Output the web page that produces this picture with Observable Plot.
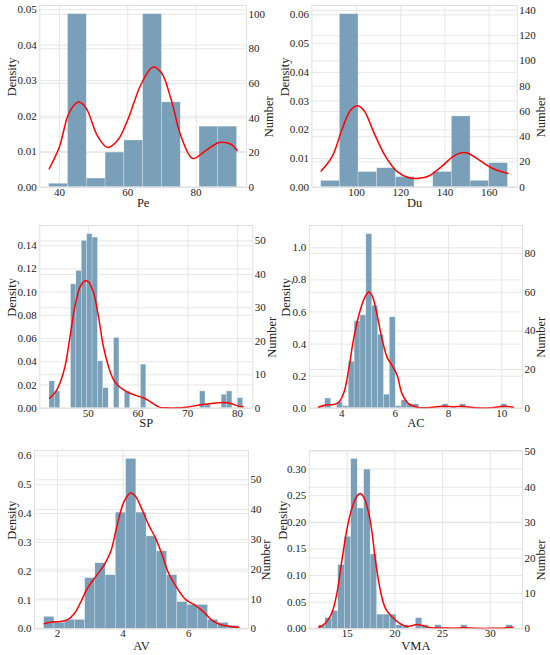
<!DOCTYPE html>
<html><head><meta charset="utf-8">
<script src="https://cdn.jsdelivr.net/npm/d3@7"></script>
<script src="https://cdn.jsdelivr.net/npm/@observablehq/plot@0.6"></script>
<style>
body{margin:0;background:#fff;}
#root{position:relative;width:550px;height:655px;overflow:hidden;background:#fff;}
#root svg{position:absolute;}
#root svg, #root svg text{font-family:"Liberation Serif","Times New Roman",serif !important;}
</style></head><body><div id="root"></div>
<script>
// ---------- Pe ----------
const peStart = 37, peWidth = 5.5;
const peCounts = [2, 100, 5, 20, 27, 100, 49, 0, 35, 35];
const peKdeX = [37, 40, 42.4, 44.0, 45.6, 47.0, 48.3, 51.2, 54.1, 57.1, 60, 63.9, 67.3, 69.8, 72.7, 75.6, 79, 82.4, 86.8, 90.2, 92];
const peKdeY = [0.0052, 0.0114, 0.0200, 0.0228, 0.0240, 0.0233, 0.0214, 0.0143, 0.0112, 0.0133, 0.0190, 0.0290, 0.0338, 0.0323, 0.0247, 0.0143, 0.0081, 0.0100, 0.0126, 0.0121, 0.0103];
const peXTicks = [40, 60, 80];
const peDTicks = [0, 0.01, 0.02, 0.03, 0.04, 0.05];
const peNTicks = [0, 20, 40, 60, 80, 100];

// ---------- Du ----------
const duStart = 84, duWidth = 8.45;
const duCounts = [5, 137, 12, 15, 8, 0, 12, 56, 5, 19];
const duKdeX = [84, 89, 93.5, 97.3, 100.3, 103.3, 107.8, 113.1, 118.4, 123.7, 128.2, 132.7, 138.8, 143.3, 147.1, 150.1, 155.4, 161.4, 168.5];
const duKdeY = [0.0056, 0.0107, 0.0203, 0.0268, 0.0284, 0.0268, 0.0191, 0.0107, 0.0054, 0.0033, 0.0031, 0.0039, 0.0074, 0.0105, 0.0119, 0.0119, 0.0095, 0.0066, 0.0048];
const duXTicks = [100, 120, 140, 160];
const duDTicks = [0, 0.01, 0.02, 0.03, 0.04, 0.05, 0.06];
const duNTicks = [0, 20, 40, 60, 80, 100, 120, 140];

// ---------- SP ----------
const spStart = 42.19, spWidth = 1.081;
const spCounts = [8, 5, 0, 0, 37, 41, 50, 52, 51, 14, 6, 0, 21, 0, 5, 0, 0, 13, 0, 0, 0, 0, 0, 0, 0, 0, 0, 0, 5, 1, 0, 0, 4, 5, 0, 3];
const spKdeX = [42.19, 43.38, 44.37, 45.36, 46.36, 47.35, 48.34, 49.34, 50.0, 50.99, 51.99, 52.98, 53.97, 54.97, 55.96, 57.28, 58.61, 59.93, 61.26, 62.58, 64.24, 65.8, 67.1, 69.8, 72.5, 75.2, 77.2, 78.5, 80.0, 81.1];
const spKdeY = [0.0086, 0.0138, 0.0225, 0.0369, 0.0628, 0.0887, 0.1045, 0.1097, 0.1089, 0.1002, 0.080, 0.054, 0.037, 0.0253, 0.0196, 0.0153, 0.0124, 0.0104, 0.0086, 0.0052, 0.0009, 0.0003, 0.0002, 0.0009, 0.0029, 0.0043, 0.0049, 0.0043, 0.0020, 0.0012];
const spXTicks = [50, 60, 70, 80];
const spDTicks = [0, 0.02, 0.04, 0.06, 0.08, 0.10, 0.12, 0.14];
const spNTicks = [0, 10, 20, 30, 40, 50];

// ---------- AC ----------
const acStart = 3.16, acWidth = 0.22;
const acCounts = [1, 5, 0, 3, 1, 24, 45, 48, 90, 53, 38, 7, 47, 1, 4, 2, 2, 0, 0, 0, 0, 2, 0, 0, 2, 0, 0, 0, 0, 0, 0, 2];
const acKdeX = [3.12, 3.45, 3.70, 3.89, 4.08, 4.26, 4.45, 4.70, 4.89, 5.01, 5.14, 5.33, 5.51, 5.70, 5.89, 6.08, 6.26, 6.51, 6.83, 7.2, 7.8, 8.2, 8.5, 9.0, 9.6, 10.1, 10.43];
const acKdeY = [0.006, 0.021, 0.023, 0.037, 0.099, 0.244, 0.44, 0.617, 0.70, 0.725, 0.70, 0.575, 0.43, 0.317, 0.265, 0.203, 0.089, 0.027, 0.006, 0.003, 0.012, 0.008, 0.012, 0.003, 0.003, 0.012, 0.006];
const acXTicks = [4, 6, 8, 10];
const acDTicks = [0, 0.2, 0.4, 0.6, 0.8, 1.0];
const acNTicks = [0, 20, 40, 60, 80];

// ---------- AV ----------
const avStart = 1.595, avWidth = 0.312;
const avCounts = [4, 2, 3, 3, 17, 22, 18, 39, 57, 39, 31, 26, 18, 9, 8, 8, 3, 2, 1];
const avKdeX = [1.595, 1.80, 2.10, 2.30, 2.51, 2.71, 2.91, 3.16, 3.42, 3.62, 3.82, 4.03, 4.23, 4.38, 4.58, 4.78, 4.99, 5.19, 5.39, 5.65, 5.90, 6.20, 6.46, 6.71, 6.96, 7.27, 7.52];
const avKdeY = [0.0174, 0.023, 0.0256, 0.031, 0.052, 0.093, 0.14, 0.18, 0.221, 0.267, 0.36, 0.442, 0.471, 0.459, 0.413, 0.36, 0.314, 0.256, 0.192, 0.14, 0.102, 0.081, 0.058, 0.029, 0.015, 0.008, 0.005];
const avXTicks = [2, 4, 6];
const avDTicks = [0, 0.1, 0.2, 0.3, 0.4, 0.5, 0.6];
const avNTicks = [0, 10, 20, 30, 40, 50];

// ---------- VMA ----------
const vmaStart = 12.03, vmaWidth = 0.678;
const vmaCounts = [1, 3, 5, 18, 26, 48, 34, 45, 21, 4, 4, 4, 1, 1, 0, 3, 1, 0, 1, 0, 0, 0, 1, 0, 0, 0, 0, 0, 0, 1];
const vmaKdeX = [12.03, 12.73, 13.43, 13.95, 14.48, 15.0, 15.52, 16.05, 16.40, 16.75, 17.27, 17.62, 17.97, 18.5, 19.02, 19.72, 20.42, 21.29, 22.34, 22.87, 23.8, 25.0, 26.2, 27.2, 28.5, 30.0, 31.5, 32.38];
const vmaKdeY = [0.003, 0.011, 0.032, 0.070, 0.133, 0.19, 0.228, 0.25, 0.254, 0.247, 0.216, 0.178, 0.127, 0.070, 0.038, 0.022, 0.011, 0.0044, 0.008, 0.006, 0.002, 0.0015, 0.001, 0.002, 0.001, 0.0008, 0.0015, 0.003];
const vmaXTicks = [15, 20, 25, 30];
const vmaDTicks = [0, 0.05, 0.10, 0.15, 0.20, 0.25, 0.30];
const vmaNTicks = [0, 10, 20, 30, 40, 50];

const FONT = '"Liberation Serif", "Times New Roman", serif';
const GRID = "#e4e4e4";
const BAR = "#7aa0b9";

function panel(o) {
  const N = d3.sum(o.counts);
  const k = 1 / (N * o.width);
  const bars = o.counts.map((c, i) => ({x1: o.start + i * o.width, x2: o.start + (i + 1) * o.width, y: c * k})).filter(b => b.y > 0);
  const kde = o.kdeX.map((x, i) => ({x, y: o.kdeY[i]}));
  const ymax = 1.05 * Math.max(d3.max(bars, b => b.y), d3.max(o.kdeY));
  const nPos = o.nTicks.map(n => n * k);
  const fmt = d3.format(o.dFmt);
  const svg = Plot.plot({
    width: o.w, height: o.h,
    marginLeft: o.mL, marginRight: o.mR, marginTop: o.mT, marginBottom: o.mB,
    style: {fontFamily: FONT, fontSize: "11px", color: "#222", background: "transparent", overflow: "visible"},
    x: {domain: o.xDomain},
    y: {domain: [0, ymax]},
    marks: [
      Plot.gridX({ticks: o.xTicks, stroke: GRID, strokeOpacity: 1, strokeWidth: 0.9}),
      Plot.gridY({ticks: o.dTicks, stroke: GRID, strokeOpacity: 1, strokeWidth: 0.9}),
      Plot.gridY({ticks: nPos, stroke: GRID, strokeOpacity: 1, strokeWidth: 0.9}),
      Plot.rectY(bars, {x1: "x1", x2: "x2", y: "y", fill: BAR, stroke: "#ffffff", strokeWidth: 0.4, strokeOpacity: 0.6, inset: 0}),
      Plot.line(kde, {x: "x", y: "y", stroke: "red", strokeWidth: 1.5, curve: "catmull-rom"}),
      Plot.frame({stroke: "#dddddd", strokeWidth: 0.9}),
      Plot.axisX({ticks: o.xTicks, tickSize: 0, tickPadding: 0.5, tickFormat: d => String(d), label: null, fontSize: 11, fill: "#222"}),
      Plot.axisY({ticks: o.dTicks, anchor: "left", tickSize: 0, tickPadding: 3, tickFormat: d => fmt(d), label: null, fontSize: 11, fill: "#222"}),
      Plot.axisY({ticks: nPos, anchor: "right", tickSize: 0, tickPadding: 2, tickFormat: d => String(Math.round(d / k)), label: null, fontSize: 11, fill: "#222"}),
      Plot.text([o.xLabel], {frameAnchor: "bottom", dy: o.xLabDy, text: d => d, fontSize: 12.5, fill: "#222", lineAnchor: "middle"}),
      Plot.text(["Density"], {frameAnchor: "left", dx: o.dLabDx, rotate: -90, text: d => d, fontSize: 12.5, fill: "#222", lineAnchor: "middle"}),
      Plot.text(["Number"], {frameAnchor: "right", dx: o.nLabDx, rotate: -90, text: d => d, fontSize: 12.5, fill: "#222", lineAnchor: "middle"})
    ]
  });
  svg.style.left = o.left + "px";
  svg.style.top = o.top + "px";
  document.getElementById("root").appendChild(svg);
}

panel({counts: peCounts, start: peStart, width: peWidth, kdeX: peKdeX, kdeY: peKdeY,
  xDomain: [34.25, 94.75], xTicks: peXTicks, dTicks: peDTicks, dFmt: ".2f", nTicks: peNTicks, xLabel: "Pe",
  left: 0, top: 0, w: 275, h: 218, mL: 39.3, mR: 29, mT: 5, mB: 31.3, xLabDy: 15.6, dLabDx: -27.6, nLabDx: 22.3});

panel({counts: duCounts, start: duStart, width: duWidth, kdeX: duKdeX, kdeY: duKdeY,
  xDomain: [79.8, 172.7], xTicks: duXTicks, dTicks: duDTicks, dFmt: ".2f", nTicks: duNTicks, xLabel: "Du",
  left: 275, top: 0, w: 275, h: 218, mL: 36.4, mR: 33.3, mT: 5, mB: 31.3, xLabDy: 15.6, dLabDx: -27, nLabDx: 23.3});

panel({counts: spCounts, start: spStart, width: spWidth, kdeX: spKdeX, kdeY: spKdeY,
  xDomain: [40.24, 83.05], xTicks: spXTicks, dTicks: spDTicks, dFmt: ".2f", nTicks: spNTicks, xLabel: "SP",
  left: 0, top: 218, w: 275, h: 219, mL: 39.3, mR: 22.7, mT: 7, mB: 29.3, xLabDy: 15, dLabDx: -27.6, nLabDx: 18.7});

panel({counts: acCounts, start: acStart, width: acWidth, kdeX: acKdeX, kdeY: acKdeY,
  xDomain: [2.78, 10.78], xTicks: acXTicks, dTicks: acDTicks, dFmt: ".1f", nTicks: acNTicks, xLabel: "AC",
  left: 275, top: 218, w: 275, h: 219, mL: 33.8, mR: 27.9, mT: 7, mB: 29.3, xLabDy: 15, dLabDx: -23.8, nLabDx: 18});

panel({counts: avCounts, start: avStart, width: avWidth, kdeX: avKdeX, kdeY: avKdeY,
  xDomain: [1.30, 7.82], xTicks: avXTicks, dTicks: avDTicks, dFmt: ".1f", nTicks: avNTicks, xLabel: "AV",
  left: 0, top: 437, w: 275, h: 218, mL: 34, mR: 27, mT: 13, mB: 26.7, xLabDy: 17.4, dLabDx: -22.3, nLabDx: 17});

panel({counts: vmaCounts, start: vmaStart, width: vmaWidth, kdeX: vmaKdeX, kdeY: vmaKdeY,
  xDomain: [11.01, 33.4], xTicks: vmaXTicks, dTicks: vmaDTicks, dFmt: ".2f", nTicks: vmaNTicks, xLabel: "VMA",
  left: 275, top: 437, w: 275, h: 218, mL: 33.7, mR: 27.9, mT: 13, mB: 26.7, xLabDy: 17.4, dLabDx: -26.4, nLabDx: 18});
</script>
</body></html>
